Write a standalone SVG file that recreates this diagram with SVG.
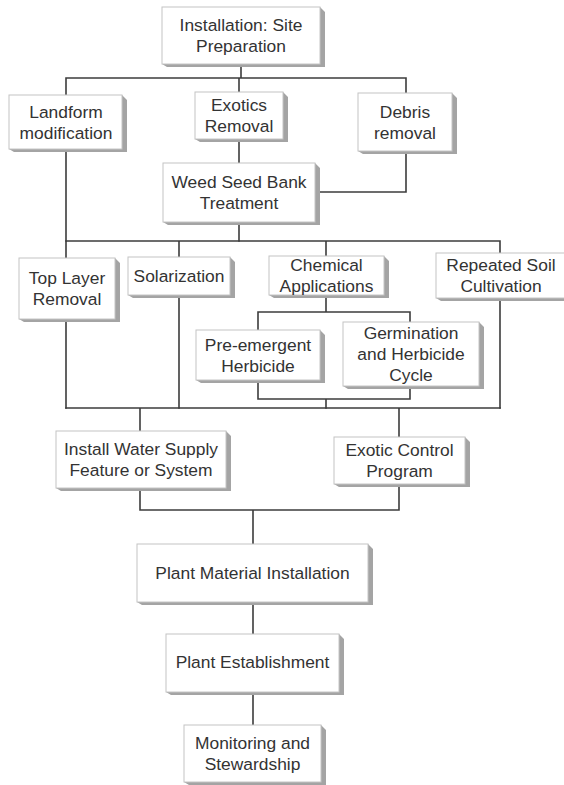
<svg xmlns="http://www.w3.org/2000/svg" width="564" height="785" viewBox="0 0 564 785">
  <style>
    .box { fill: #ffffff; stroke: #c4c4c4; stroke-width: 1; }
    .shade { fill: #a4a4a4; }
    .lbl { font-family: "Liberation Sans", Arial, sans-serif; font-size: 17.4px; fill: #333333; text-anchor: middle; }
    .wire { fill: none; stroke: #3c3c3c; stroke-width: 1.6; stroke-linecap: square; }
  </style>
  <rect width="564" height="785" fill="#ffffff"/>

  <!-- connectors -->
  <g id="connectors" class="wire">
    <path d="M241 64V78M66 78H406M66 78V95M239 78V92M406 78V93"/>
    <path d="M239 139V163"/>
    <path d="M406 151V192H315"/>
    <path d="M66 149V241M239 222V241"/>
    <path d="M66 241H500M66 241V258M179 241V257M326 241V256M500 241V253"/>
    <path d="M66 319V408M179 295V408M500 298V408"/>
    <path d="M326 295V312M258 312H410M258 312V330M410 312V322"/>
    <path d="M258 380V399H410V386M326 399V408"/>
    <path d="M66 408H500M140 408V431M399 408V437"/>
    <path d="M140 488V510H399V484M253 510V544"/>
    <path d="M253 602V634M253 692V725"/>
  </g>

  <!-- nodes: 3D-style shaded boxes -->
  <g id="site-preparation">
    <polygon class="shade" points="320,7 325,12 325,67 167,67 162,64 320,64"/>
    <rect class="box" x="162" y="7" width="158" height="57"/>
    <text class="lbl" x="241" y="31">Installation: Site</text>
    <text class="lbl" x="241" y="52">Preparation</text>
  </g>

  <g id="landform-modification">
    <polygon class="shade" points="122,95 127,100 127,152 14,152 9,149 122,149"/>
    <rect class="box" x="9" y="95" width="113" height="54"/>
    <text class="lbl" x="66" y="117.5">Landform</text>
    <text class="lbl" x="66" y="138.5">modification</text>
  </g>

  <g id="exotics-removal">
    <polygon class="shade" points="283,92 288,97 288,142 200,142 195,139 283,139"/>
    <rect class="box" x="195" y="92" width="88" height="47"/>
    <text class="lbl" x="239" y="111">Exotics</text>
    <text class="lbl" x="239" y="132">Removal</text>
  </g>

  <g id="debris-removal">
    <polygon class="shade" points="452,93 457,98 457,154 363,154 358,151 452,151"/>
    <rect class="box" x="358" y="93" width="94" height="58"/>
    <text class="lbl" x="405" y="117.5">Debris</text>
    <text class="lbl" x="405" y="138.5">removal</text>
  </g>

  <g id="weed-seed-bank">
    <polygon class="shade" points="315,163 320,168 320,225 168,225 163,222 315,222"/>
    <rect class="box" x="163" y="163" width="152" height="59"/>
    <text class="lbl" x="239" y="188">Weed Seed Bank</text>
    <text class="lbl" x="239" y="209">Treatment</text>
  </g>

  <g id="top-layer-removal">
    <polygon class="shade" points="115,258 120,263 120,322 24,322 19,319 115,319"/>
    <rect class="box" x="19" y="258" width="96" height="61"/>
    <text class="lbl" x="67" y="284">Top Layer</text>
    <text class="lbl" x="67" y="305">Removal</text>
  </g>

  <g id="solarization">
    <polygon class="shade" points="230,257 235,262 235,298 133,298 128,295 230,295"/>
    <rect class="box" x="128" y="257" width="102" height="38"/>
    <text class="lbl" x="179" y="281.5">Solarization</text>
  </g>

  <g id="chemical-applications">
    <polygon class="shade" points="384,256 389,261 389,298 274,298 269,295 384,295"/>
    <rect class="box" x="269" y="256" width="115" height="39"/>
    <text class="lbl" x="326.5" y="270.5">Chemical</text>
    <text class="lbl" x="326.5" y="291.5">Applications</text>
  </g>

  <!-- this box runs past the right edge of the sheet -->
  <g id="repeated-soil-cultivation">
    <polygon class="shade" points="441,301 436,298 570,298 570,301"/>
    <rect class="box" x="436" y="253" width="134" height="45"/>
    <text class="lbl" x="501" y="271">Repeated Soil</text>
    <text class="lbl" x="501" y="292">Cultivation</text>
  </g>

  <g id="pre-emergent-herbicide">
    <polygon class="shade" points="320,330 325,335 325,383 201,383 196,380 320,380"/>
    <rect class="box" x="196" y="330" width="124" height="50"/>
    <text class="lbl" x="258" y="350.5">Pre-emergent</text>
    <text class="lbl" x="258" y="371.5">Herbicide</text>
  </g>

  <g id="germination-herbicide-cycle">
    <polygon class="shade" points="479,322 484,327 484,389 348,389 343,386 479,386"/>
    <rect class="box" x="343" y="322" width="136" height="64"/>
    <text class="lbl" x="411" y="339">Germination</text>
    <text class="lbl" x="411" y="360">and Herbicide</text>
    <text class="lbl" x="411" y="381">Cycle</text>
  </g>

  <g id="install-water-supply">
    <polygon class="shade" points="226,431 231,436 231,491 61,491 56,488 226,488"/>
    <rect class="box" x="56" y="431" width="170" height="57"/>
    <text class="lbl" x="141" y="455">Install Water Supply</text>
    <text class="lbl" x="141" y="476">Feature or System</text>
  </g>

  <g id="exotic-control-program">
    <polygon class="shade" points="465,437 470,442 470,487 339,487 334,484 465,484"/>
    <rect class="box" x="334" y="437" width="131" height="47"/>
    <text class="lbl" x="399.5" y="456">Exotic Control</text>
    <text class="lbl" x="399.5" y="477">Program</text>
  </g>

  <g id="plant-material-installation">
    <polygon class="shade" points="368,544 373,549 373,605 142,605 137,602 368,602"/>
    <rect class="box" x="137" y="544" width="231" height="58"/>
    <text class="lbl" x="252.5" y="578.5">Plant Material Installation</text>
  </g>

  <g id="plant-establishment">
    <polygon class="shade" points="339,634 344,639 344,695 171,695 166,692 339,692"/>
    <rect class="box" x="166" y="634" width="173" height="58"/>
    <text class="lbl" x="252.5" y="668">Plant Establishment</text>
  </g>

  <g id="monitoring-stewardship">
    <polygon class="shade" points="321,725 326,730 326,785 189,785 184,782 321,782"/>
    <rect class="box" x="184" y="725" width="137" height="57"/>
    <text class="lbl" x="252.5" y="748.5">Monitoring and</text>
    <text class="lbl" x="252.5" y="769.5">Stewardship</text>
  </g>
</svg>
